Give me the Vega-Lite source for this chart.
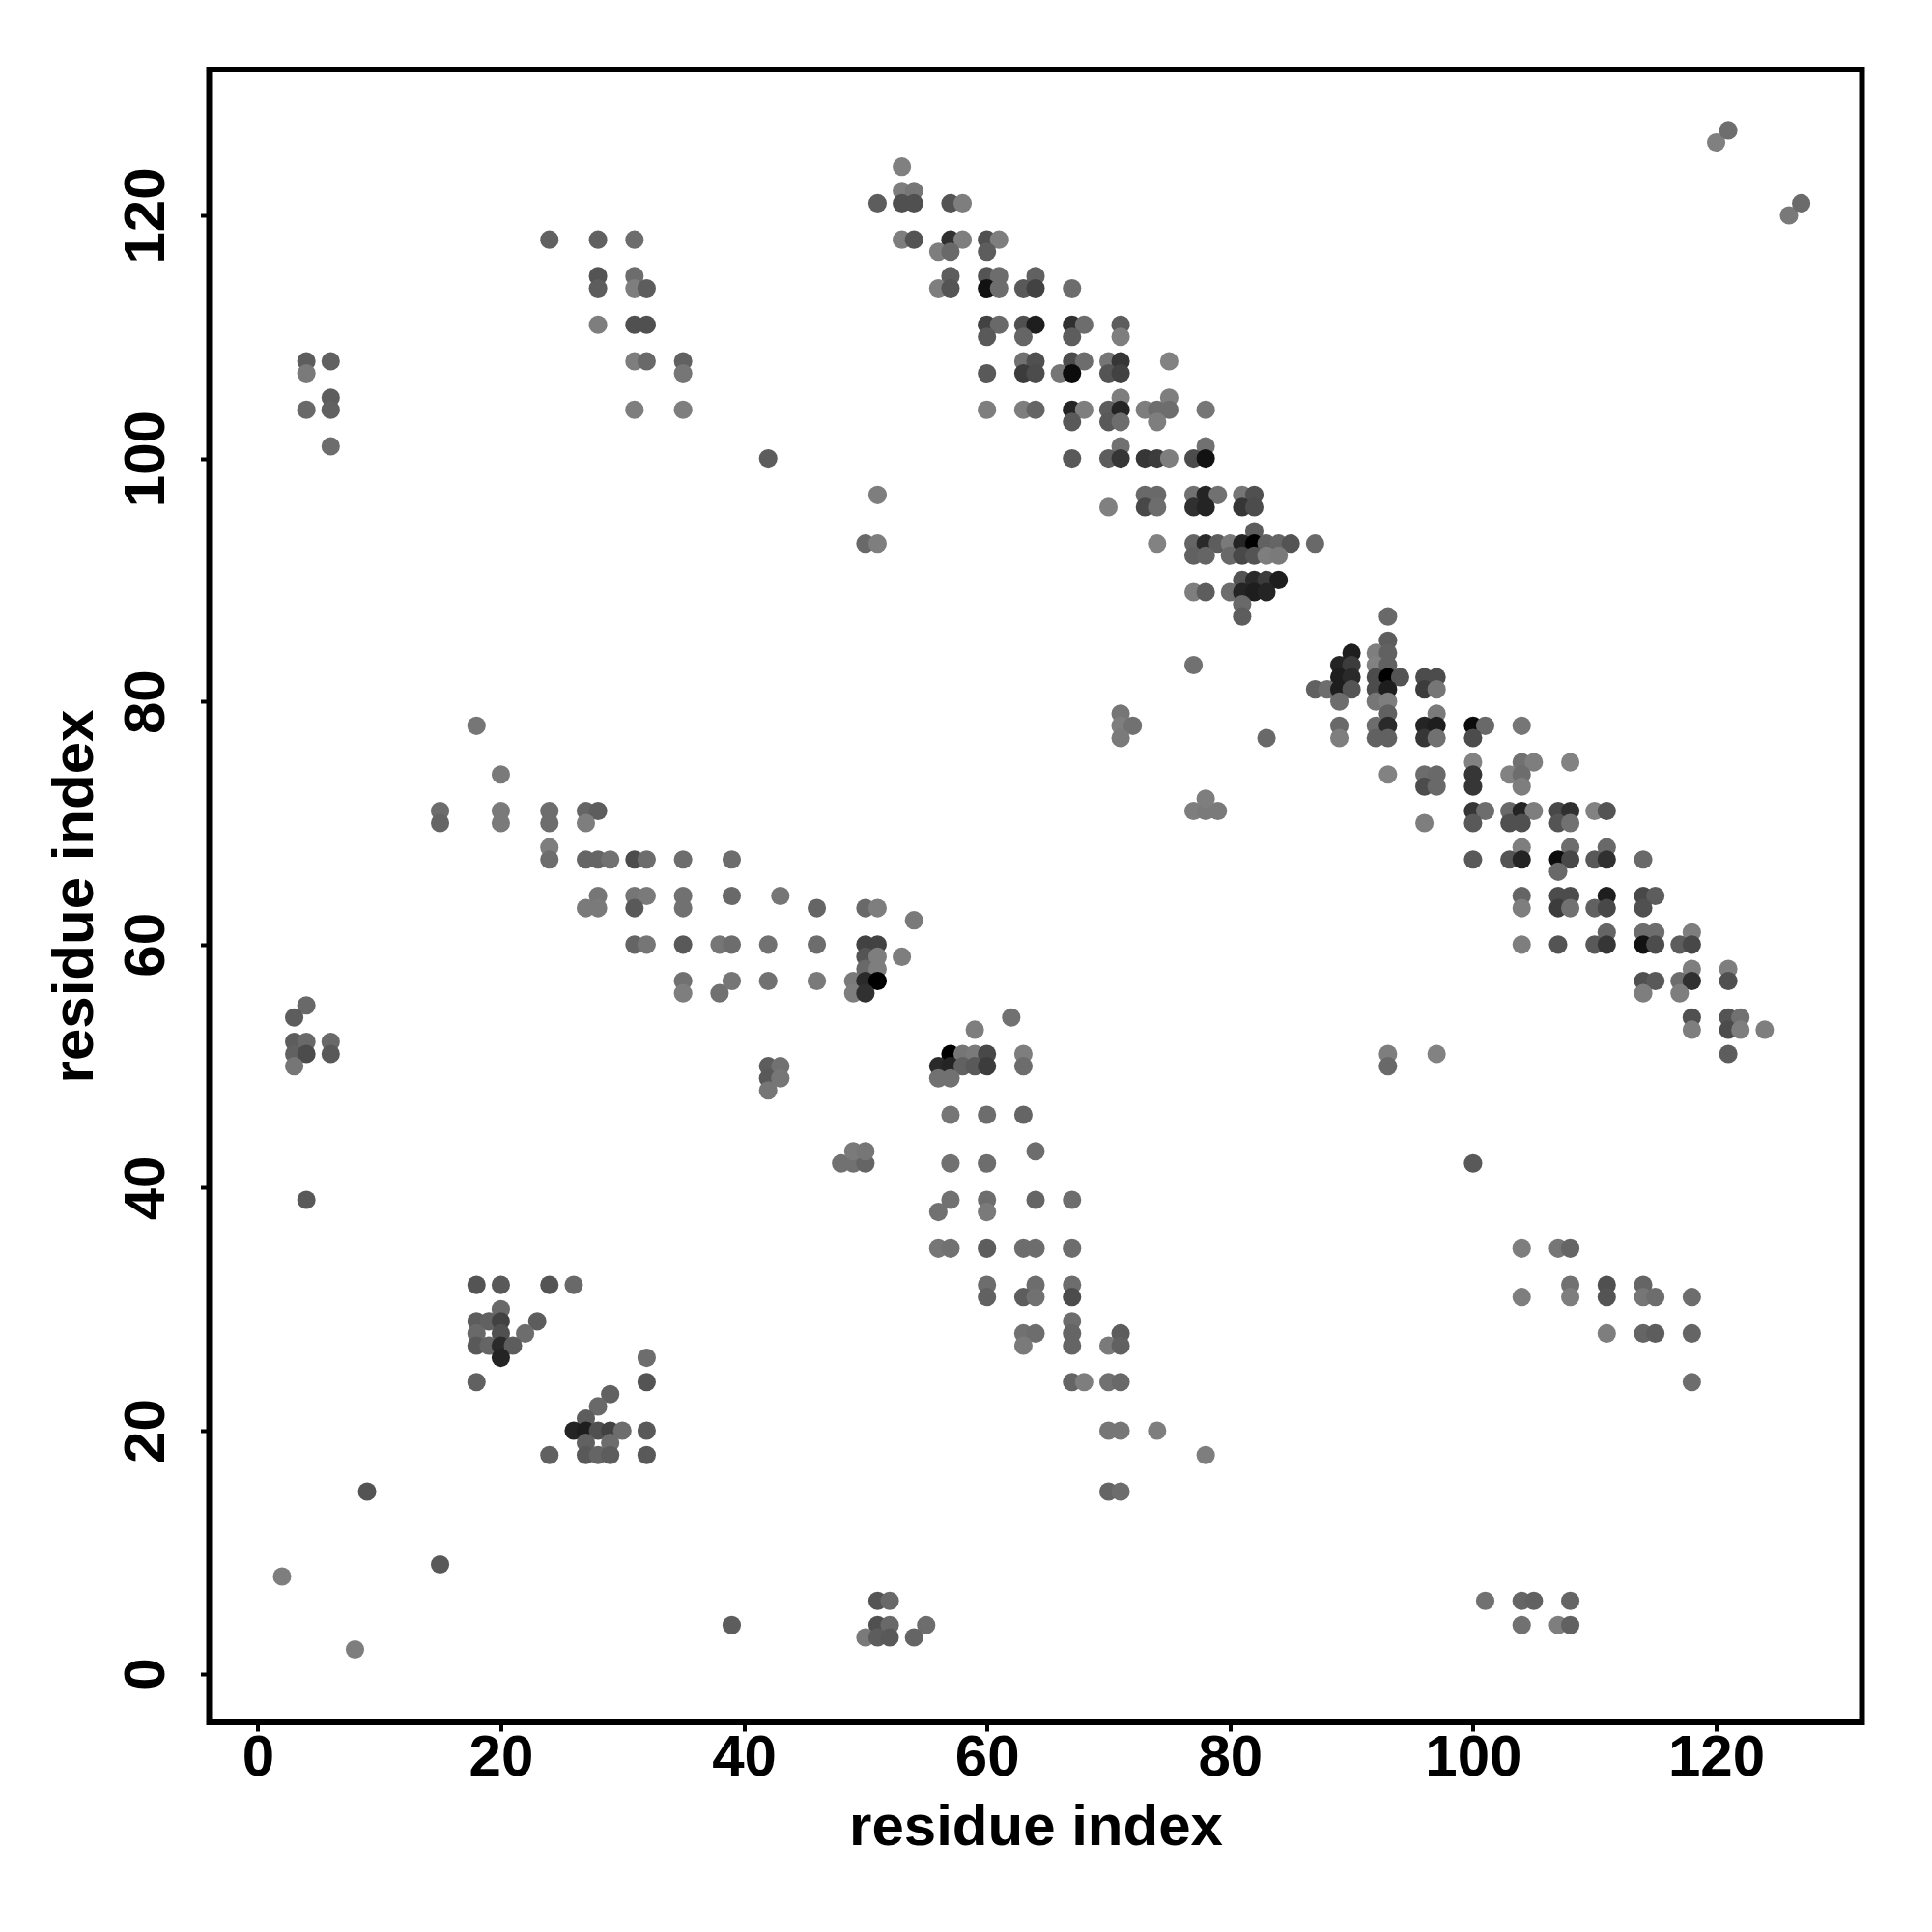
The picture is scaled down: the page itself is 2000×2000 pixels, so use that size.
{"$schema":"https://vega.github.io/schema/vega-lite/v6.json","width":1711,"height":1711,"autosize":{"type":"none"},"padding":{"left":216.5,"top":72,"right":72.5,"bottom":217},"background":"white","view":{"stroke":"black","strokeWidth":6,"fill":"white"},
"datasets":{"contacts":[[120,126,128],[121,127,106],[126,120,119],[127,121,102],
[53,124,128],[53,122,125],[54,122,115],[51,121,85],[53,121,70],[54,121,70],[57,121,75],[58,121,125],[53,118,125],[54,118,75],[57,118,40],[58,118,125],[60,118,70],[61,118,125],[56,117,125],[57,117,100],[60,117,85],[57,115,85],[60,115,75],[61,115,105],[64,115,90],[56,114,125],[57,114,75],[60,114,15],[61,114,105],[63,114,80],[64,114,55],[67,114,105],[60,111,55],[61,111,100],[63,111,70],[64,111,25],[67,111,40],[68,111,105],[71,111,85],[60,110,80],[63,110,95],[67,110,85],[71,110,125],[63,108,110],[64,108,70],[67,108,65],[68,108,105],[70,108,115],[71,108,45],[75,108,130],[60,107,80],[63,107,50],[64,107,65],[66,107,115],[67,107,10],[70,107,75],[71,107,55],[71,105,125],[75,105,125],[60,104,125],[63,104,125],[64,104,95],[67,104,30],[68,104,125],[70,104,85],[71,104,30],[73,104,125],[74,104,105],[75,104,105],[78,104,115],[67,103,80],[70,103,80],[71,103,105],[74,103,125],[71,101,110],[78,101,110],[67,100,80],[70,100,85],[71,100,45],[73,100,45],[74,100,50],[75,100,125],[77,100,65],[78,100,15],[51,97,125],
[73,97,100],[74,97,100],[77,97,110],[78,97,30],[79,97,110],[81,97,115],[82,97,70],[70,96,128],[73,96,60],[74,96,105],[77,96,40],[78,96,30],[81,96,45],[82,96,65],[82,94,85],[74,93,130],[77,93,95],[78,93,35],[79,93,85],[80,93,120],[81,93,30],[82,93,0],[83,93,90],[84,93,95],[85,93,75],[87,93,100],[77,92,90],[78,92,95],[80,92,100],[81,92,60],[82,92,75],[83,92,125],[84,92,120],[81,90,75],[82,90,35],[83,90,50],[84,90,25],[77,89,125],[78,89,85],[80,89,105],[81,89,30],[82,89,25],[83,89,30],[81,88,100],[81,87,85],[77,83,110],
[93,87,100],[93,85,85],[90,84,25],[92,84,125],[93,84,90],[89,83,30],[90,83,50],[92,83,130],[93,83,90],[89,82,25],[90,82,35],[92,82,65],[93,82,0],[94,82,75],[96,82,65],[97,82,65],[87,81,90],[88,81,105],[89,81,25],[90,81,75],[92,81,65],[93,81,25],[96,81,50],[97,81,115],[89,80,105],[92,80,115],[93,80,125],[93,79,90],[97,79,120],[89,78,100],[92,78,105],[93,78,35],[96,78,30],[97,78,25],[100,78,10],[101,78,100],[104,78,115],[89,77,125],[92,77,90],[93,77,90],[96,77,45],[97,77,110],[100,77,65],[100,75,130],[104,75,110],[105,75,125],[108,75,130],[93,74,130],[96,74,105],[97,74,100],[100,74,45],[103,74,130],[104,74,105],[96,73,65],[97,73,100],[100,73,45],[104,73,125],
[100,71,45],[101,71,105],[103,71,100],[104,71,30],[105,71,125],[107,71,60],[108,71,40],[110,71,130],[111,71,75],[96,70,125],[100,70,80],[103,70,70],[104,70,70],[107,70,75],[108,70,110],[104,68,125],[108,68,105],[111,68,100],[100,67,80],[103,67,75],[104,67,30],[107,67,10],[108,67,60],[110,67,80],[111,67,40],[114,67,100],[107,66,100],[104,64,95],[107,64,65],[108,64,65],[111,64,25],[114,64,60],[115,64,85],[104,63,125],[107,63,50],[108,63,110],[110,63,90],[111,63,60],[114,63,70],[111,61,95],[114,61,105],[115,61,105],[118,61,125],[104,60,125],[107,60,75],[110,60,80],[111,60,45],[114,60,15],[115,60,65],[117,60,85],[118,60,60],[118,58,125],[121,58,125],[114,57,70],[115,57,80],[117,57,105],[118,57,40],[121,57,70],[114,56,125],[117,56,125],[118,54,70],[121,54,75],[122,54,110],[118,53,125],[121,53,65],[122,53,125],[124,53,125],[97,51,130],[121,51,85],[93,51,125],[93,50,100],[100,42,80],
[15,71,105],[20,71,120],[24,71,105],[27,71,95],[28,71,85],[15,70,95],[20,70,120],[24,70,105],[27,70,125],[24,68,125],[24,67,105],[27,67,95],[28,67,95],[29,67,110],[31,67,65],[32,67,105],[35,67,105],[39,67,105],[28,64,115],[31,64,115],[32,64,120],[35,64,110],[39,64,100],[43,64,115],[27,63,120],[28,63,120],[31,63,80],[35,63,110],[46,63,95],[50,63,100],[51,63,125],[54,62,120],[31,60,95],[32,60,115],[35,60,80],[38,60,115],[39,60,105],[42,60,110],[46,60,105],[50,60,55],[51,60,55],[50,59,75],[51,59,125],[53,59,125],[50,58,100],[51,58,125],[35,57,110],[39,57,115],[42,57,110],[46,57,120],[49,57,120],[50,57,35],[51,57,0],[35,56,125],[38,56,110],[49,56,125],[50,56,40],
[18,32,75],[20,32,80],[24,32,75],[26,32,100],[20,30,100],[18,29,85],[19,29,90],[20,29,55],[23,29,85],[18,28,100],[20,28,70],[22,28,105],[18,27,80],[19,27,95],[20,27,35],[21,27,85],[20,26,30],[32,26,105],[18,24,90],[32,24,75],[29,23,90],[28,22,100],[27,21,85],[26,20,30],[27,20,25],[28,20,70],[29,20,55],[30,20,105],[32,20,80],[27,19,90],[29,19,105],[24,18,90],[27,18,80],[28,18,95],[29,18,85],[32,18,80],
[62,54,110],[59,53,125],[57,51,0],[58,51,115],[59,51,120],[60,51,60],[63,51,125],[56,50,35],[57,50,30],[58,50,90],[59,50,80],[60,50,50],[63,50,105],[56,49,110],[57,49,110],[57,46,115],[60,46,105],[63,46,95],[64,43,105],[57,42,110],[60,42,105],[57,39,110],[60,39,105],[64,39,95],[67,39,105],[56,38,110],[60,38,120],[56,35,115],[57,35,110],[60,35,85],[63,35,105],[64,35,105],[67,35,105],[60,32,105],[64,32,105],[67,32,105],[60,31,90],[63,31,85],[64,31,110],[67,31,65],[67,29,105],[63,28,110],[64,28,105],[67,28,95],[71,28,85],[63,27,120],[67,27,95],[70,27,120],[71,27,90],[67,24,95],[68,24,125],[70,24,110],[71,24,100],[70,20,115],[71,20,115],[74,20,125],[78,18,125],[70,15,95],[71,15,105],
[4,108,85],[6,108,90],[4,107,120],[6,105,85],[4,104,100],[6,104,90],[6,101,105],[31,108,125],[32,108,100],[35,108,90],[35,107,115],[31,104,125],[35,104,125],[4,55,100],[3,54,85],[3,52,85],[4,52,100],[6,52,100],[3,51,90],[4,51,65],[6,51,80],[3,50,115],[4,39,80],
[104,35,125],[107,35,115],[108,35,95],[108,32,110],[108,31,125],[104,31,125],[111,32,70],[111,31,75],[114,32,95],[114,31,115],[115,31,105],[118,31,105],[111,28,125],[114,28,95],[115,28,85],[118,28,95],[118,24,105],
[51,6,75],[52,6,100],[51,4,70],[52,4,100],[55,4,105],[50,3,120],[51,3,85],[52,3,80],[54,3,95],[101,6,110],[104,6,95],[105,6,90],[108,6,95],[104,4,110],[107,4,125],[108,4,90],
[2,8,125],[8,2,125],[9,15,75],[15,9,80],[39,4,85],[42,100,85],[50,93,100],[51,93,125],
[24,118,90],[28,118,90],[31,118,105],[28,115,75],[31,115,105],[28,114,85],[31,114,125],[32,114,85],[28,111,125],[31,111,70],[32,111,70],
[42,50,85],[43,50,110],[42,49,80],[43,49,115],[42,48,115],[48,42,110],[49,42,110],[50,42,95],[49,43,120],[50,43,115],[18,78,115],[20,74,120],[71,79,115],[71,78,125],[72,78,110],[71,77,120],[83,77,100],[77,71,125],[78,71,120],[79,71,120],[78,72,125]]},
"data":{"name":"contacts"},
"transform":[{"calculate":"datum[0]","as":"i"},{"calculate":"datum[1]","as":"j"},{"calculate":"datum[2]","as":"shade"}],
"mark":{"type":"point","filled":true,"opacity":1,"size":365,"shape":"circle"},
"encoding":{
"x":{"field":"i","type":"quantitative","scale":{"domain":[-4,132],"nice":false,"zero":false},"axis":{"title":"residue index","values":[0,20,40,60,80,100,120],"grid":false,"domain":false,"ticks":true,"tickSize":9,"tickWidth":4,"tickColor":"black","labelFont":"Liberation Sans","labelFontWeight":"bold","labelFontSize":60,"labelColor":"black","labelPadding":-2,"labelFlush":false,"labelOverlap":false,"titleFont":"Liberation Sans","titleFontWeight":"bold","titleFontSize":60,"titleColor":"black","titlePadding":13}},
"y":{"field":"j","type":"quantitative","scale":{"domain":[-4,132],"nice":false,"zero":false},"axis":{"title":"residue index","values":[0,20,40,60,80,100,120],"grid":false,"domain":false,"ticks":true,"tickSize":9,"tickWidth":4,"tickColor":"black","labelFont":"Liberation Sans","labelFontWeight":"bold","labelFontSize":60,"labelColor":"black","labelAngle":-90,"labelAlign":"center","labelBaseline":"bottom","labelPadding":25,"labelFlush":false,"labelOverlap":false,"titleFont":"Liberation Sans","titleFontWeight":"bold","titleFontSize":60,"titleColor":"black","titlePadding":13}},
"color":{"field":"shade","type":"quantitative","scale":{"domain":[0,60,130],"range":["#000000","#484848","#828282"],"interpolate":"rgb"},"legend":null},
"order":[{"field":"i"},{"field":"j"}]
},
"config":{"axis":{"labelFontWeight":"bold"}}}
